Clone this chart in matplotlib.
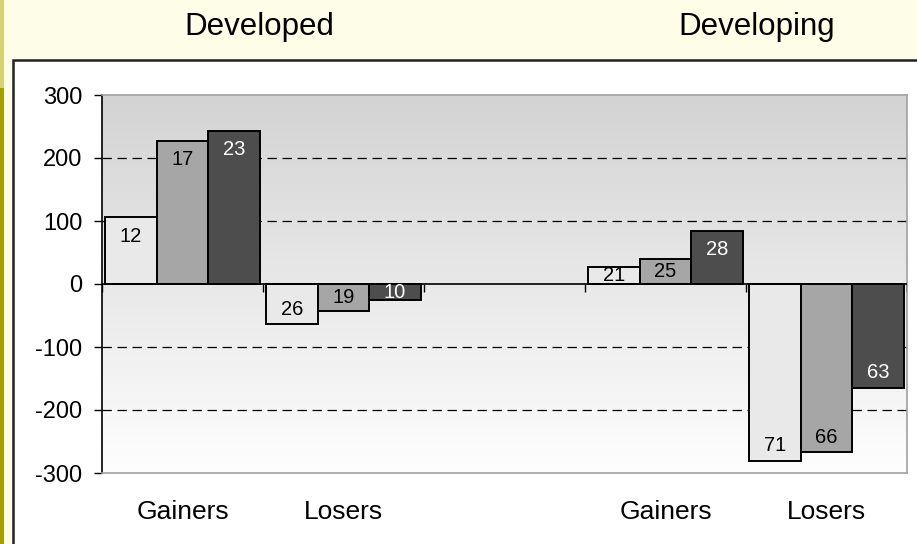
import numpy as np
import matplotlib

matplotlib.use("Agg")
import matplotlib.pyplot as plt
from matplotlib.patches import Rectangle
from matplotlib.transforms import blended_transform_factory

plt.rcParams["font.family"] = ["Liberation Sans", "DejaVu Sans"]

# data
groups = ["Developed", "Developing"]
categories = ["Gainers", "Losers", "", "Gainers", "Losers"]
series_a = [106, -64, np.nan, 27, -281]
series_b = [227, -43, np.nan, 40, -267]
series_c = [243, -26, np.nan, 84, -165]
labels_a = ["12", "26", "", "21", "71"]
labels_b = ["17", "19", "", "25", "66"]
labels_c = ["23", "10", "", "28", "63"]
yticks = [-300, -200, -100, 0, 100, 200, 300]

bar_colors = ["#e9e9e9", "#a6a6a6", "#4d4d4d"]
label_colors = ["black", "black", "white"]

fig = plt.figure(figsize=(9.17, 5.44), dpi=100)
fig.patch.set_facecolor("#fefee8")

# left accent strip and white chart box, kept behind the axes
fig.add_artist(Rectangle((0, 0), 4 / 917, 1 - 88 / 544, transform=fig.transFigure,
                         facecolor="#a0a000", edgecolor="none", zorder=-5))
fig.add_artist(Rectangle((0, 1 - 88 / 544), 4 / 917, 88 / 544, transform=fig.transFigure,
                         facecolor="#d4d275", edgecolor="none", zorder=-5))
fig.add_artist(Rectangle((13 / 917, -0.02), 1.0, 1 - 60 / 544 + 0.02, transform=fig.transFigure,
                         facecolor="white", edgecolor="#222222", linewidth=1.8, zorder=-5))

ax = fig.add_axes([102 / 917, 1 - 473 / 544, 805 / 917, 378 / 544])
ax.set_zorder(1)
ax.set_xlim(0, len(categories))
ax.set_ylim(-300, 300)

# gradient background
grad = np.linspace(0, 1, 256).reshape(-1, 1)
ax.imshow(grad, extent=[0, len(categories), -300, 300], origin="lower", aspect="auto",
          cmap=matplotlib.colors.LinearSegmentedColormap.from_list("bg", ["#fefefe", "#d3d3d3"]),
          zorder=0)

for y in [-200, -100, 100, 200]:
    ax.axhline(y, color="black", lw=0.9, ls=(0, (7.5, 4.5)), zorder=1)

x = np.arange(len(categories)) + 0.5
w = 0.32
for i, (vals, labs) in enumerate(zip([series_a, series_b, series_c],
                                     [labels_a, labels_b, labels_c])):
    xs = x + (i - 1) * w
    ax.bar(xs, vals, width=w, color=bar_colors[i], edgecolor="black", linewidth=1.4, zorder=3)
    for xi, v, lab in zip(xs, vals, labs):
        if not lab:
            continue
        d = 30 if v > 0 else 24
        ly = v - np.sign(v) * min(abs(v) / 2, d)
        ax.text(xi, ly, lab, ha="center", va="center", fontsize=14.5,
                color=label_colors[i], zorder=4)

ax.axhline(0, color="black", lw=1.2, zorder=3)
ax.vlines(np.arange(len(categories) + 1), -12, 0, color="black", lw=1, zorder=3)

ax.set_yticks(yticks)
ax.set_yticklabels([str(t) for t in yticks], fontsize=17)
ax.tick_params(axis="y", direction="out", length=6, width=1, pad=8)
ax.set_xticks([])

for side in ["top", "right", "bottom"]:
    ax.spines[side].set_color("#a0a0a0")
    ax.spines[side].set_linewidth(1.2)
ax.spines["left"].set_color("black")
ax.spines["left"].set_linewidth(1.2)

trans = blended_transform_factory(ax.transData, ax.transAxes)
for xi, cat in zip(x, categories):
    if cat:
        ax.text(xi, -0.103, cat, transform=trans, ha="center", va="center", fontsize=19)

fig.text(259 / 917, 1 - 35 / 544, groups[0], ha="center", va="baseline", fontsize=22.5)
fig.text(757 / 917, 1 - 35 / 544, groups[1], ha="center", va="baseline", fontsize=22.5)

fig.savefig("out.png", dpi=100, facecolor=fig.get_facecolor())
